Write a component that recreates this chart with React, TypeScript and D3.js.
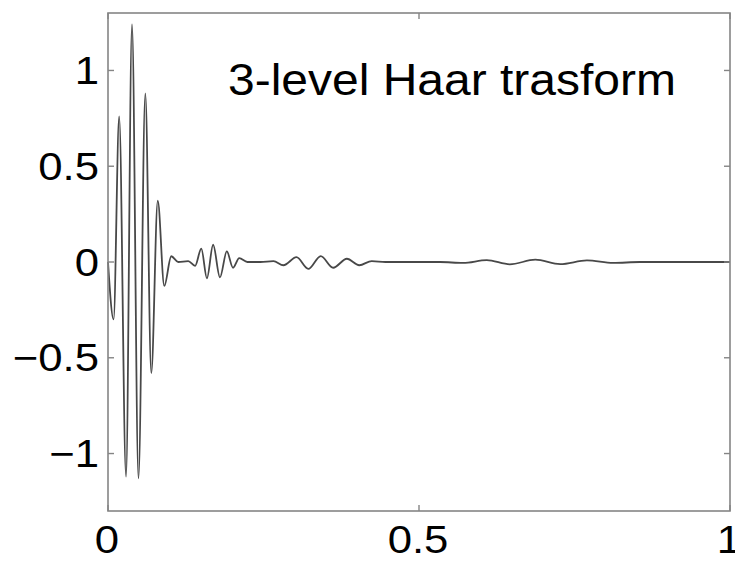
import React from "react";
import * as d3 from "d3";

// Signal: extrema and rest points (x, value)
const signalX = [
  0, 0.009, 0.018, 0.029, 0.0386, 0.049, 0.06, 0.0696, 0.08, 0.0905, 0.1017,
  0.113, 0.129, 0.14, 0.15, 0.159, 0.169, 0.18, 0.191, 0.201, 0.211, 0.224,
  0.245, 0.266, 0.282, 0.303, 0.322, 0.342, 0.362, 0.384, 0.404, 0.424,
  0.446, 0.534, 0.571, 0.609, 0.646, 0.687, 0.727, 0.77, 0.812, 0.855, 1.0,
];
const signalY = [
  0, -0.3, 0.76, -1.12, 1.24, -1.13, 0.88, -0.58, 0.32, -0.125, 0.03,
  0, 0.005, -0.02, 0.07, -0.085, 0.09, -0.08, 0.055, -0.03, 0.02, 0,
  0, 0.005, -0.017, 0.025, -0.036, 0.031, -0.03, 0.017, -0.017, 0.005,
  0, 0, -0.005, 0.01, -0.012, 0.012, -0.011, 0.008, -0.005, 0, 0,
];

const xTicks = [0, 0.5, 1];
const xTickLabels = ["0", "0.5", "1"];
const yTicks = [1, 0.5, 0, -0.5, -1];
const yTickLabels = ["1", "0.5", "0", "\u22120.5", "\u22121"];
const titleText = "3-level Haar trasform";

const W = 735;
const H = 561;
const L = 108;
const R = 730;
const T = 13;
const B = 511;

export default function App() {
  const x = d3.scaleLinear().domain([0, 1]).range([L, R]);
  const y = d3.scaleLinear().domain([-1.3, 1.3]).range([B, T]);
  const pts: [number, number][] = signalX.map((v, i) => [v, signalY[i]]);
  const line = d3
    .line<[number, number]>()
    .x((d) => x(d[0]))
    .y((d) => y(d[1]))
    .curve(d3.curveMonotoneX);
  const font = "'Liberation Sans', Arial, Helvetica, sans-serif";
  const axisColor = "#858585";
  const tickLen = 6;
  return (
    <svg
      width={W}
      height={H}
      style={{ position: "absolute", left: 0, top: 0, background: "#fff" }}
    >
      <rect x={0} y={0} width={W} height={H} fill="#fff" />
      <path d={line(pts) || ""} fill="none" stroke="#484848" strokeWidth={1.8} />
      <rect
        x={L}
        y={T}
        width={R - L}
        height={B - T}
        fill="none"
        stroke={axisColor}
        strokeWidth={1.6}
      />
      {yTicks.map((t, i) => (
        <g key={"y" + i}>
          <line x1={L} x2={L + tickLen} y1={y(t)} y2={y(t)} stroke={axisColor} strokeWidth={1.4} />
          <line x1={R} x2={R - tickLen} y1={y(t)} y2={y(t)} stroke={axisColor} strokeWidth={1.4} />
          <text
            transform={`translate(99,${y(t) + 13.7}) scale(1.15,1)`}
            textAnchor="end"
            fontFamily={font}
            fontSize={38}
            fill="#000"
          >
            {yTickLabels[i]}
          </text>
        </g>
      ))}
      {xTicks.map((t, i) => (
        <g key={"x" + i}>
          <line x1={x(t)} x2={x(t)} y1={B} y2={B - tickLen} stroke={axisColor} strokeWidth={1.4} />
          <line x1={x(t)} x2={x(t)} y1={T} y2={T + tickLen} stroke={axisColor} strokeWidth={1.4} />
          <text
            transform={`translate(${x(t) - 1},553) scale(1.15,1)`}
            textAnchor="middle"
            fontFamily={font}
            fontSize={38}
            fill="#000"
          >
            {xTickLabels[i]}
          </text>
        </g>
      ))}
      <text
        x={228}
        y={95}
        fontFamily={font}
        fontSize={44}
        textLength={448}
        lengthAdjust="spacingAndGlyphs"
        fill="#000"
      >
        {titleText}
      </text>
    </svg>
  );
}
